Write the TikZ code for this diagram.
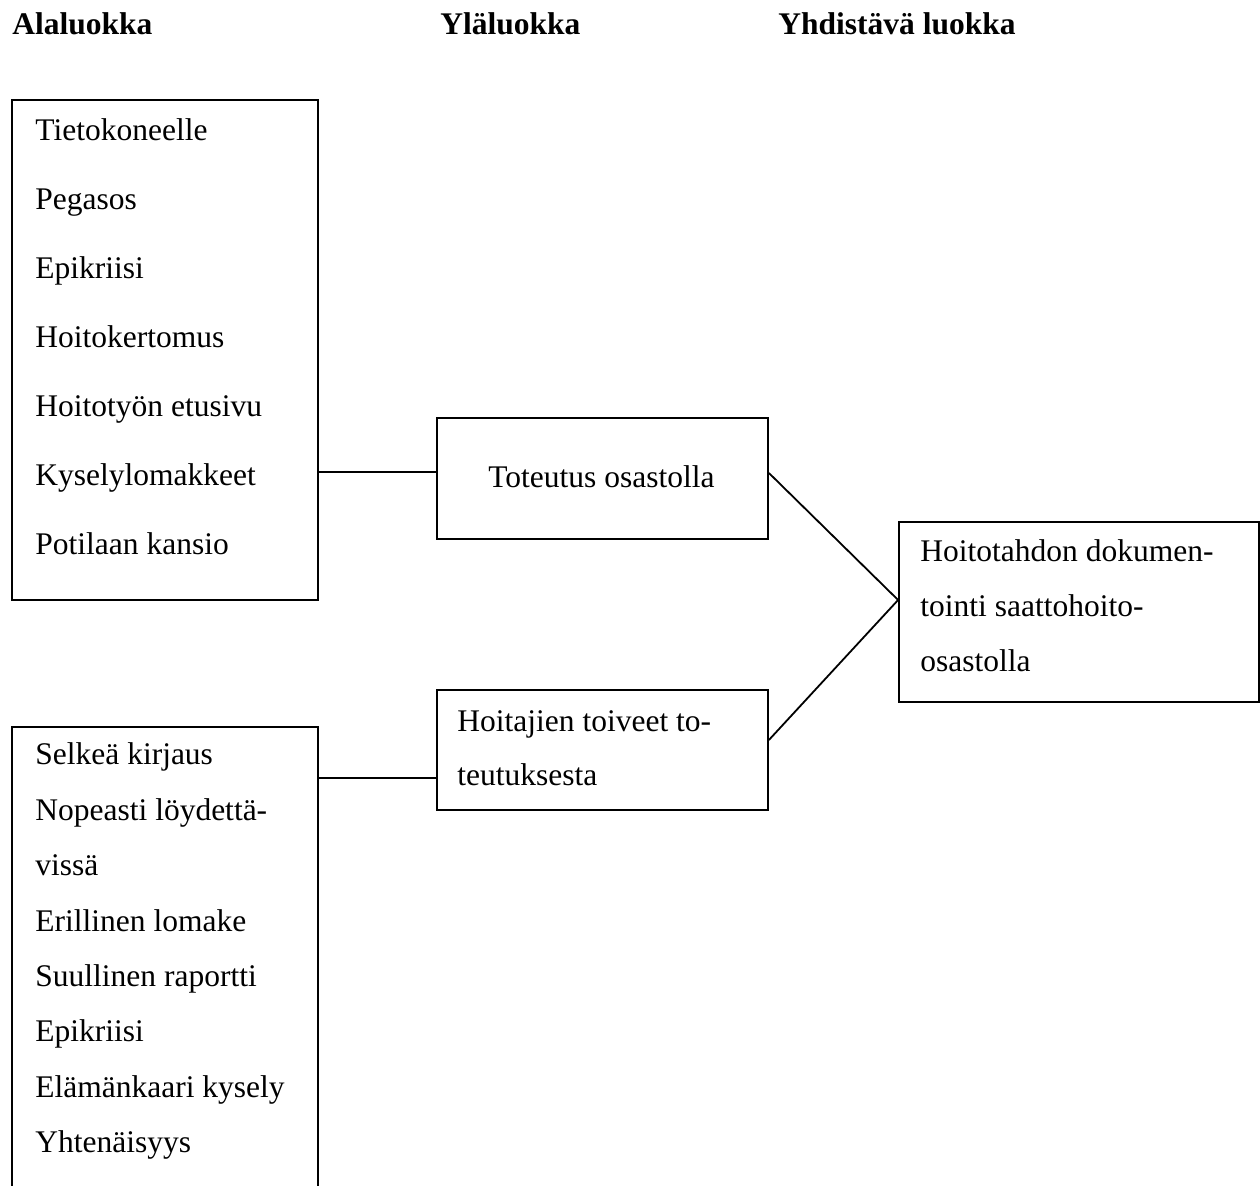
\documentclass[tikz,border=0pt]{standalone}
\usepackage{fontspec}
\setmainfont{Liberation Serif}
\usetikzlibrary{fit}
\tikzset{
  box/.style={draw, line width=0.9pt, inner sep=0pt, rectangle},
  txt/.style={anchor=base west, inner sep=0pt, font=\fontsize{15.75}{18}\selectfont},
  hdr/.style={anchor=base west, inner sep=0pt, font=\fontsize{15.75}{18}\selectfont\bfseries},
  conn/.style={line width=0.9pt}
}
\begin{document}
\begin{tikzpicture}[x=0.5pt,y=-0.5pt]
\useasboundingbox (0,0) rectangle (1260,1186);
\clip (0,0) rectangle (1260,1186);
% headers
\node[hdr] (h1) at (12,35) {Alaluokka};
\node[hdr] (h2) at (440,35) {Yläluokka};
\node[hdr] (h3) at (778,35) {Yhdistävä luokka};
% boxes
\node[box, fit={(12,100) (318,600)}] (a1) {};
\node[box, fit={(12,727) (318,1220)}] (a2) {};
\node[box, fit={(437,418) (768,539)}] (tot) {};
\node[box, fit={(437,690) (768,810)}] (hoit) {};
\node[box, fit={(899,522) (1259,702)}] (yhd) {};
% A1 text
\foreach \t [count=\i from 0] in {Tietokoneelle,Pegasos,Epikriisi,Hoitokertomus,Hoitotyön etusivu,Kyselylomakkeet,Potilaan kansio}
  \node[txt] (a1t\i) at (35,141+69*\i) {\t};
% A2 text
\foreach \t [count=\i from 0] in {Selkeä kirjaus,Nopeasti löydettä-,vissä,Erillinen lomake,Suullinen raportti,Epikriisi,Elämänkaari kysely,Yhtenäisyys}
  \node[txt] (a2t\i) at (35,765+55.4*\i) {\t};
% middle texts
\node[txt] (tott) at (488,488) {Toteutus osastolla};
\node[txt] (hoitt1) at (457,732) {Hoitajien toiveet to-};
\node[txt] (hoitt2) at (457,786) {teutuksesta};
% right text
\node[txt] (yhdt1) at (920,562) {Hoitotahdon dokumen-};
\node[txt] (yhdt2) at (920,617) {tointi saattohoito-};
\node[txt] (yhdt3) at (920,672) {osastolla};
% connectors
\coordinate (join) at (yhd.west |- 0,600);
\draw[conn] (a1.east |- 0,472) -- (tot.west |- 0,472);
\draw[conn] (a2.east |- 0,778) -- (hoit.west |- 0,778);
\draw[conn] (tot.east |- 0,473) -- (join);
\draw[conn] (hoit.east |- 0,740) -- (join);
\end{tikzpicture}
\end{document}
